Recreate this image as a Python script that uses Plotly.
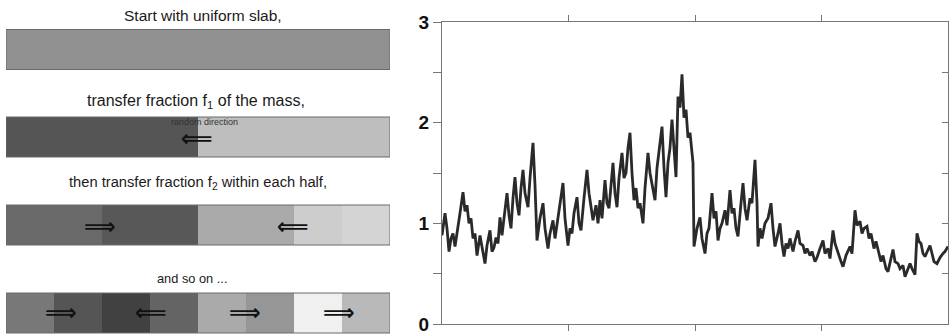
import plotly.graph_objects as go

# ---------------- data ----------------
# Left panel: grey level (0-255) of each eighth of the slab at each cascade stage
slab_uniform = [145, 145, 145, 145, 145, 145, 145, 145]
slab_stage1 = [85, 85, 85, 85, 190, 190, 190, 190]
slab_stage2 = [105, 105, 88, 88, 170, 170, 205, 212]
slab_stage3 = [120, 85, 65, 100, 170, 150, 240, 185]
slab_captions = [
    "Start with uniform slab,",
    "transfer fraction f<sub>1</sub> of the mass,",
    "then transfer fraction f<sub>2</sub> within each half,",
    "and so on ...",
]
stage1_arrows = ["⟸"]
stage2_arrows = ["⟹", "⟸"]
stage3_arrows = ["⟹", "⟸", "⟹", "⟹"]

# Right panel: resulting multifractal measure
position = [
    0, 3, 5, 7, 9, 11, 13, 16, 18, 21, 23, 25, 27, 29, 31, 33, 35, 38, 40, 43,
    45, 48, 50, 52, 54, 56, 58, 60, 62, 65, 67, 69, 71, 73, 75, 77, 79, 81, 83,
    86, 88, 91, 93, 95,
    98, 101, 103, 106, 108, 111, 113, 116, 118, 121, 123, 126, 128, 130, 132,
    135, 137, 139, 142, 145, 147, 149, 151, 154, 156, 158, 160, 163, 165, 167,
    169, 171, 173, 175, 177, 180, 182, 184, 186, 188, 190, 192, 194, 196, 198,
    201, 203, 206, 208, 210, 213, 215, 217, 220, 222, 224, 226, 228, 230, 232,
    234, 236, 238, 240, 242, 244, 246, 248, 251, 252,
    255, 258, 260, 263, 265, 267, 270, 272, 274, 276, 278, 280, 283, 285, 288,
    290, 292, 294, 296, 299, 301, 303, 305, 308, 310, 313, 315, 316, 318, 320,
    323, 326, 329, 331, 333, 336, 338, 340, 342, 344, 346, 348, 351, 353, 356,
    358, 361, 363, 365, 368, 370, 373, 375, 378, 381, 383, 386, 388, 391, 393,
    396, 399, 401, 404, 408, 410, 413, 415, 418, 420, 422, 425, 427, 429, 432,
    434, 437, 439, 441, 444, 446, 449, 451, 453, 456, 458, 461, 463, 465, 468,
    470, 473, 475, 477, 479, 481, 483, 485, 488, 490, 492, 495, 498, 501, 503,
    506,
]
measure = [
    0.88, 1.10, 0.95, 0.72, 0.85, 0.90, 0.77, 1.00, 1.10, 1.31, 1.12, 1.18,
    1.00, 1.05, 0.85, 0.90, 0.68, 0.88, 0.78, 0.60, 0.78, 0.93, 0.72, 0.76,
    0.86, 0.80, 1.06, 0.88, 1.05, 1.30, 1.08, 0.95, 1.25, 1.46, 1.20, 1.08,
    1.35, 1.53, 1.30, 1.16, 1.45, 1.80, 1.38, 0.83,
    1.05, 1.20, 0.95, 0.75, 0.90, 1.03, 0.85, 1.05, 1.20, 1.40, 1.05, 0.78,
    0.95, 0.90, 1.10, 1.26, 1.00, 0.93, 1.25, 1.53, 1.30, 1.15, 1.03, 1.18,
    1.00, 1.23, 1.05, 1.43, 1.20, 1.15, 1.35, 1.60, 1.30, 1.16, 1.45, 1.70,
    1.45, 1.50, 1.75, 1.90, 1.50, 1.23, 1.35, 1.15, 1.20, 1.00, 1.35, 1.70,
    1.50, 1.40, 1.23, 1.55, 1.70, 1.96, 1.55, 1.26, 1.60, 1.75, 2.03, 1.70,
    1.46, 2.26, 2.15, 2.48, 2.05, 2.13, 1.85, 1.90, 1.60, 0.77,
    0.95, 1.06, 0.85, 0.70, 0.90, 0.95, 1.30, 1.05, 1.12, 0.83, 0.95, 1.00,
    1.13, 0.98, 1.33, 1.10, 1.15, 0.95, 0.87, 1.20, 1.40, 1.15, 1.03, 1.25,
    1.20, 1.63, 1.20, 0.77, 0.95, 0.85, 1.00, 1.05, 1.20, 0.95, 0.77, 0.90,
    1.00, 0.80, 0.67, 0.80, 0.75, 0.85, 0.72, 0.82, 0.93, 0.80, 0.78, 0.70,
    0.75, 0.68, 0.72, 0.62, 0.66, 0.75, 0.83, 0.70, 0.75, 0.65, 0.93, 0.80,
    0.70, 0.62, 0.57, 0.68, 0.77, 0.70, 1.13, 0.98, 1.02, 0.90, 0.95, 0.97,
    0.85, 0.90, 0.75, 0.82, 0.70, 0.62, 0.68, 0.55, 0.52, 0.65, 0.74, 0.62,
    0.60, 0.55, 0.58, 0.47, 0.52, 0.60, 0.55, 0.49, 0.90, 0.82, 0.80, 0.70,
    0.67, 0.72, 0.78, 0.70, 0.62, 0.60, 0.66, 0.70, 0.72, 0.77,
]
y_ticks = [0, 1, 2, 3]
y_tick_labels = ["0", "1", "2", "3"]
y_all_ticks = [0, 0.5, 1, 1.5, 2, 2.5, 3]
y_minor_step = 0.5
x_ticks = [126.5, 253, 379.5]

# ---------------- figure ----------------
W, H = 951, 334
fig = go.Figure()

slabs = [slab_uniform, slab_stage1, slab_stage2, slab_stage3]
slab_rows = [49.5, 137, 225, 313]       # row centre (px from top)
half_h = 20
n = len(slab_uniform)
edges = [i / n for i in range(n + 1)]
for levels, row in zip(slabs, slab_rows):
    fig.add_trace(go.Heatmap(
        z=[levels], x=edges, y=[row - half_h, row + half_h],
        zmin=0, zmax=255, colorscale=[[0, "black"], [1, "white"]],
        showscale=False, hoverinfo="skip", xaxis="x", yaxis="y",
    ))
    fig.add_trace(go.Scatter(
        x=[0, 1, 1, 0, 0],
        y=[row - half_h, row - half_h, row + half_h, row + half_h, row - half_h],
        mode="lines", line=dict(color="#6a6a6a", width=1),
        xaxis="x", yaxis="y", showlegend=False, hoverinfo="skip",
    ))

caption_rows = [15, 101, 183, 278]
caption_cx = [203, 196, 198, 192]
caption_sizes = [15.5, 16, 14.7, 12.8]
annotations = []
for cap, row, cx, fs in zip(slab_captions, caption_rows, caption_cx, caption_sizes):
    annotations.append(dict(
        x=(cx - 6) / 384, y=row, xref="x", yref="y", text=cap, showarrow=False,
        font=dict(family="Liberation Sans, Arial", size=fs, color="#1a1a1a"),
    ))
annotations.append(dict(
    x=0.518, y=122, xref="x", yref="y", text="random direction", showarrow=False,
    font=dict(family="Liberation Sans, Arial", size=9, color="#333"),
))

arrow_sets = [
    (stage1_arrows, [0.497], 138),
    (stage2_arrows, [0.245, 0.748], 226),
    (stage3_arrows, [0.143, 0.378, 0.622, 0.867], 312),
]
for arrows, xs, row in arrow_sets:
    for a, xx in zip(arrows, xs):
        annotations.append(dict(
            x=xx, y=row, xref="x", yref="y", text=a, showarrow=False,
            font=dict(family="DejaVu Sans", size=22, color="#111", weight="bold"),
        ))

fig.add_trace(go.Scatter(
    x=position, y=measure, mode="lines",
    line=dict(color="#2a2a2a", width=2.8),
    xaxis="x2", yaxis="y2", showlegend=False, hoverinfo="skip",
))
# empty trace so the right-hand tick axis is drawn
fig.add_trace(go.Scatter(
    x=[None], y=[None], mode="lines", xaxis="x2", yaxis="y3",
    showlegend=False, hoverinfo="skip",
))

fig.update_layout(
    width=W, height=H,
    margin=dict(l=0, r=0, t=0, b=0, pad=0, autoexpand=False),
    paper_bgcolor="white", plot_bgcolor="rgba(0,0,0,0)",
    annotations=annotations,
    xaxis=dict(domain=[6 / W, 390 / W], range=[0, 1], visible=False,
               fixedrange=True, automargin=False),
    yaxis=dict(domain=[0, 1], range=[334, 0], visible=False,
               fixedrange=True, automargin=False),
    xaxis2=dict(
        domain=[442 / W, 948 / W], range=[0, 506], anchor="y2", automargin=False,
        tickvals=x_ticks, showticklabels=False,
        ticks="outside", ticklen=6, tickcolor="#777",
        showline=True, linecolor="#777", linewidth=1, mirror="ticks",
        showgrid=False, zeroline=False,
    ),
    yaxis2=dict(
        domain=[10 / H, 312 / H], range=[0, 3], anchor="x2", automargin=False,
        tickvals=y_ticks, ticktext=y_tick_labels,
        ticks="outside", ticklen=8, tickcolor="#777",
        minor=dict(dtick=y_minor_step, ticks="outside", ticklen=8, tickcolor="#777",
                   showgrid=False),
        ticklabeloverflow="allow",
        tickfont=dict(family="Liberation Sans, Arial", size=19, color="#111", weight="bold"),
        showline=True, linecolor="#777", linewidth=1, mirror=True,
        showgrid=False, zeroline=False,
    ),
    yaxis3=dict(
        overlaying="y2", side="right", anchor="x2", range=[0, 3], automargin=False,
        tickvals=y_all_ticks, showticklabels=False,
        ticks="inside", ticklen=6, tickcolor="#777",
        showline=False, showgrid=False, zeroline=False,
    ),
)

fig.write_html("out.html")
